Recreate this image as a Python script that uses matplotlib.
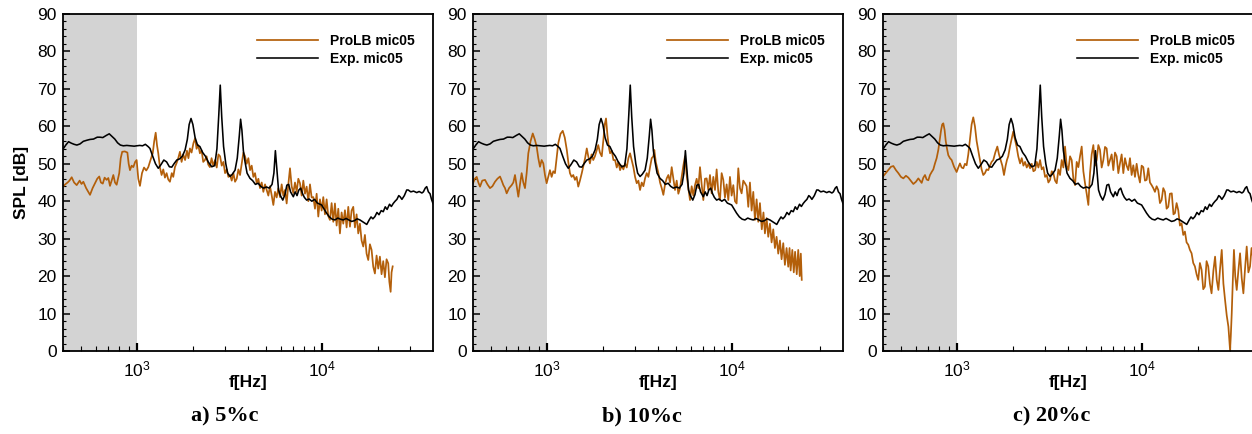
import numpy as np
import matplotlib
matplotlib.use("Agg")
import matplotlib.pyplot as plt
from matplotlib.ticker import MultipleLocator, LogLocator, NullFormatter

plt.rcParams['font.family'] = ['Liberation Sans', 'DejaVu Sans']

# ---------------- data (log10 of frequency in Hz, SPL in dB) ----------------
exp_logf = [2.600, 2.615, 2.630, 2.645, 2.660, 2.675, 2.692, 2.710, 2.730, 2.746, 2.765, 2.785, 2.800, 2.815,
            2.835, 2.850, 2.865, 2.880, 2.895, 2.910, 2.926, 2.945, 2.965, 2.985, 2.998, 3.015, 3.030, 3.045,
            3.060, 3.070, 3.085, 3.100, 3.115, 3.130, 3.145, 3.160, 3.175, 3.188, 3.200, 3.215, 3.230, 3.245,
            3.260, 3.272, 3.282, 3.292, 3.302, 3.314, 3.327, 3.340, 3.355, 3.370, 3.385, 3.404, 3.420, 3.432,
            3.442, 3.450, 3.458, 3.468, 3.480, 3.490, 3.503, 3.515, 3.530, 3.542, 3.553, 3.560, 3.567, 3.575,
            3.584, 3.595, 3.611, 3.625, 3.640, 3.655, 3.668, 3.683, 3.700, 3.715, 3.730, 3.740, 3.748, 3.756,
            3.765, 3.775, 3.788, 3.800, 3.810, 3.820, 3.830, 3.845, 3.855, 3.865, 3.875, 3.885, 3.895, 3.905,
            3.917, 3.930, 3.945, 3.960, 3.975, 3.988, 3.998, 4.010, 4.025, 4.040, 4.055, 4.070, 4.085, 4.100,
            4.115, 4.130, 4.145, 4.160, 4.175, 4.190, 4.205, 4.220, 4.235, 4.242, 4.255, 4.265, 4.275, 4.286,
            4.297, 4.308, 4.320, 4.331, 4.342, 4.352, 4.365, 4.375, 4.385, 4.395, 4.405, 4.415, 4.422, 4.432,
            4.445, 4.458, 4.466, 4.480, 4.495, 4.512, 4.525, 4.540, 4.548, 4.558, 4.566, 4.575, 4.584, 4.592,
            4.600]
exp_spl = [53.9, 55.0, 55.9, 55.5, 55.2, 55.0, 55.3, 56.0, 56.3, 56.5, 56.6, 57.1, 57.1, 57.0,
           57.6, 58.0, 57.3, 56.6, 55.6, 55.0, 54.8, 54.9, 54.8, 54.7, 54.8, 54.9, 54.8, 55.2,
           54.6, 54.1, 52.0, 50.0, 48.8, 49.8, 51.0, 50.5, 49.2, 49.1, 50.0, 51.0, 51.3, 52.0,
           53.7, 56.5, 60.5, 62.1, 60.5, 57.0, 55.0, 54.6, 53.0, 52.0, 50.5, 49.2, 49.5, 54.0,
           63.0, 71.0, 62.5, 54.6, 50.0, 47.5, 46.6, 47.2, 48.3, 51.5, 57.5, 61.9, 59.0, 53.5,
           50.5, 47.5, 46.1, 45.5, 44.5, 44.8, 44.0, 43.5, 43.8, 43.5, 44.5, 47.5, 53.5, 48.5,
           43.0, 41.5, 40.3, 41.8, 44.3, 44.5, 42.5, 41.2, 42.5, 41.5, 43.0, 43.5, 42.0, 41.0,
           40.3, 40.6, 40.0, 40.5, 39.5, 39.2, 39.0, 38.0, 36.8, 35.8, 35.2, 35.0, 35.5, 35.2,
           35.0, 35.4, 35.0, 34.6, 34.8, 35.3, 35.0, 34.5, 34.0, 33.8, 35.0, 35.8, 35.3, 35.9,
           37.0, 36.4, 37.5, 37.2, 38.5, 37.8, 39.2, 38.6, 39.4, 40.0, 40.5, 41.5, 41.2, 40.5,
           41.5, 43.0, 43.0, 42.5, 42.7, 42.3, 42.6, 42.2, 42.5, 43.5, 43.9, 42.5, 42.0, 40.5,
           39.4]

prolb_a_logf = [2.600, 2.612, 2.625, 2.635, 2.647, 2.660, 2.674, 2.690, 2.700, 2.710, 2.725, 2.746, 2.760, 2.773,
                2.785, 2.796, 2.805, 2.815, 2.825, 2.836, 2.845, 2.854, 2.863, 2.872, 2.881, 2.890, 2.897, 2.904,
                2.912, 2.920, 2.934, 2.948, 2.955, 2.962, 2.971, 2.980, 2.990, 2.998, 3.007, 3.016, 3.027, 3.038,
                3.050, 3.061, 3.073, 3.085, 3.093, 3.101, 3.108, 3.115, 3.124, 3.133, 3.142, 3.151, 3.160, 3.169,
                3.178, 3.188, 3.196, 3.205, 3.214, 3.223, 3.232, 3.241, 3.250, 3.260, 3.270, 3.278, 3.286, 3.295,
                3.305, 3.314, 3.322, 3.331, 3.340, 3.349, 3.358, 3.367, 3.376, 3.385, 3.394, 3.403, 3.412, 3.422,
                3.431, 3.440, 3.449, 3.458, 3.467, 3.476, 3.485, 3.494, 3.503, 3.512, 3.521, 3.530, 3.539, 3.548,
                3.557, 3.566, 3.575, 3.584, 3.593, 3.602, 3.611, 3.620, 3.629, 3.638, 3.647, 3.656, 3.665, 3.674,
                3.683, 3.692, 3.701, 3.710, 3.719, 3.728, 3.737, 3.746, 3.755, 3.764, 3.773, 3.782, 3.791, 3.800,
                3.809, 3.818, 3.827, 3.836, 3.845, 3.854, 3.863, 3.872, 3.881, 3.890, 3.899, 3.908, 3.917, 3.926,
                3.935, 3.944, 3.953, 3.962, 3.971, 3.980, 3.989, 3.998, 4.007, 4.016, 4.025, 4.034, 4.043, 4.052,
                4.061, 4.070, 4.079, 4.088, 4.097, 4.106, 4.115, 4.124, 4.133, 4.142, 4.151, 4.160, 4.169, 4.178,
                4.187, 4.196, 4.205, 4.214, 4.223, 4.232, 4.241, 4.250, 4.259, 4.268, 4.277, 4.286, 4.295, 4.304,
                4.313, 4.322, 4.331, 4.340, 4.349, 4.358, 4.364, 4.371, 4.376, 4.382]
prolb_a_spl = [43.9, 44.5, 45.0, 45.5, 46.4, 45.0, 44.3, 45.5, 44.6, 45.2, 43.5, 41.7, 43.5, 44.8,
               46.0, 46.6, 45.0, 44.7, 46.3, 45.7, 46.2, 44.1, 45.5, 47.0, 45.0, 44.4, 46.0, 47.5,
               51.5, 53.2, 53.3, 53.0, 50.0, 48.3, 49.5, 49.1, 50.5, 51.0, 46.0, 44.1, 47.5, 49.0,
               48.2, 49.1, 51.0, 52.8, 56.0, 58.3, 55.0, 52.8, 49.0, 47.0, 48.5, 46.3, 47.5, 45.8,
               45.2, 47.5, 46.5, 49.1, 50.2, 51.5, 53.2, 50.5, 52.5, 51.0, 53.5, 51.5, 54.1, 53.0,
               55.5, 56.8, 54.0, 55.0, 52.8, 53.6, 50.5, 51.0, 52.0, 49.8, 49.1, 51.5, 49.5, 51.0,
               49.0, 52.5, 52.0, 49.5, 50.5, 47.5, 48.5, 46.5, 47.0, 45.5, 47.5, 45.2, 46.0, 48.5,
               47.0, 50.0, 53.0, 52.0, 50.0, 51.5, 48.3, 49.5, 46.5, 47.5, 44.8, 46.0, 43.5, 45.0,
               42.5, 44.5, 43.0, 41.5, 44.0, 41.6, 39.0, 42.5, 41.0, 43.5, 41.1, 44.5, 41.5, 43.0,
               39.4, 44.5, 48.8, 44.0, 42.2, 45.0, 42.5, 46.0, 44.8, 41.5, 45.5, 42.0, 43.9, 40.0,
               44.5, 41.0, 41.1, 38.0, 42.0, 35.9, 40.5, 37.5, 41.1, 36.5, 40.5, 36.0, 35.0, 39.5,
               34.5, 39.4, 33.5, 38.0, 31.4, 37.0, 34.0, 37.6, 33.0, 38.5, 33.2, 37.5, 38.5, 33.0,
               36.5, 31.4, 34.0, 29.5, 27.9, 31.0, 26.0, 24.3, 28.5, 27.0, 22.5, 20.7, 25.5, 22.0,
               25.2, 20.5, 24.0, 19.7, 24.5, 23.4, 18.5, 15.8, 21.0, 22.6]

prolb_b_logf = [2.600, 2.610, 2.620, 2.629, 2.638, 2.650, 2.665, 2.678, 2.692, 2.705, 2.719, 2.732, 2.746, 2.755,
                2.764, 2.773, 2.782, 2.795, 2.809, 2.818, 2.827, 2.836, 2.845, 2.854, 2.863, 2.872, 2.881, 2.890,
                2.899, 2.911, 2.923, 2.934, 2.944, 2.953, 2.962, 2.971, 2.980, 2.989, 2.998, 3.007, 3.016, 3.025,
                3.034, 3.043, 3.052, 3.061, 3.073, 3.085, 3.096, 3.107, 3.115, 3.124, 3.133, 3.142, 3.151, 3.160,
                3.169, 3.178, 3.188, 3.197, 3.206, 3.215, 3.223, 3.232, 3.241, 3.250, 3.259, 3.268, 3.277, 3.286,
                3.296, 3.305, 3.312, 3.319, 3.327, 3.334, 3.341, 3.350, 3.359, 3.368, 3.377, 3.386, 3.395, 3.404,
                3.413, 3.422, 3.431, 3.440, 3.449, 3.458, 3.467, 3.476, 3.485, 3.494, 3.503, 3.512, 3.521, 3.530,
                3.539, 3.548, 3.557, 3.566, 3.575, 3.580, 3.588, 3.595, 3.602, 3.611, 3.620, 3.629, 3.638, 3.647,
                3.656, 3.665, 3.674, 3.683, 3.692, 3.701, 3.710, 3.719, 3.728, 3.737, 3.746, 3.755, 3.764, 3.773,
                3.782, 3.791, 3.800, 3.809, 3.818, 3.827, 3.836, 3.845, 3.854, 3.863, 3.872, 3.881, 3.890, 3.899,
                3.908, 3.917, 3.926, 3.935, 3.944, 3.953, 3.962, 3.971, 3.980, 3.989, 3.998, 4.007, 4.016, 4.025,
                4.034, 4.043, 4.052, 4.061, 4.070, 4.079, 4.088, 4.097, 4.106, 4.115, 4.124, 4.133, 4.142, 4.151,
                4.161, 4.170, 4.178, 4.187, 4.196, 4.205, 4.214, 4.223, 4.232, 4.241, 4.250, 4.259, 4.268, 4.277,
                4.286, 4.295, 4.304, 4.311, 4.317, 4.326, 4.334, 4.341, 4.350, 4.358, 4.366, 4.372, 4.377]
prolb_b_spl = [44.8, 46.0, 46.5, 45.0, 43.9, 45.5, 45.7, 44.5, 43.5, 44.0, 45.2, 46.0, 46.6, 45.5,
               44.3, 43.5, 42.1, 43.5, 44.3, 45.0, 47.0, 44.0, 41.2, 44.5, 47.5, 45.0, 43.5, 47.5,
               52.8, 56.0, 58.1, 56.5, 54.6, 51.5, 49.2, 51.0, 50.1, 47.0, 44.8, 46.5, 48.3, 46.5,
               48.0, 47.5, 51.5, 55.5, 58.0, 58.8, 57.0, 53.7, 50.5, 47.5, 46.5, 47.0, 45.7, 46.5,
               43.9, 45.5, 47.5, 49.5, 51.5, 54.1, 52.0, 50.1, 52.5, 51.0, 52.0, 53.5, 55.0, 53.0,
               52.0, 56.5, 60.5, 62.1, 57.5, 54.5, 52.8, 53.5, 51.0, 51.0, 49.0, 50.5, 48.3, 49.5,
               48.5, 50.1, 49.0, 51.5, 52.8, 51.0, 49.1, 46.5, 44.8, 45.5, 43.0, 45.0, 44.0, 46.1,
               47.5, 46.5, 49.1, 51.5, 52.0, 53.7, 50.5, 49.0, 47.5, 45.0, 43.5, 41.7, 44.5, 46.1,
               47.0, 45.0, 49.1, 46.0, 43.0, 45.5, 42.0, 43.5, 46.5, 49.5, 52.0, 47.0, 43.5, 40.3,
               44.0, 41.5, 44.3, 46.0, 43.5, 49.1, 44.5, 40.3, 46.0, 46.1, 43.0, 47.0, 42.1, 46.5,
               43.0, 48.5, 42.5, 40.3, 47.5, 45.7, 41.0, 44.5, 40.3, 46.5, 41.5, 44.3, 40.0, 39.4,
               48.8, 43.5, 42.1, 45.5, 44.8, 44.0, 38.5, 45.0, 37.5, 42.5, 35.0, 40.5, 34.5, 39.5,
               32.5, 37.0, 31.4, 35.5, 30.5, 34.0, 29.0, 32.5, 27.5, 30.5, 26.0, 29.5, 24.5, 28.8,
               23.0, 27.5, 22.5, 27.5, 21.5, 27.0, 21.0, 26.5, 20.5, 27.0, 20.0, 26.0, 19.0]

prolb_c_logf = [2.600, 2.615, 2.629, 2.643, 2.656, 2.670, 2.683, 2.697, 2.710, 2.724, 2.737, 2.750, 2.764, 2.778,
                2.791, 2.800, 2.809, 2.818, 2.827, 2.836, 2.845, 2.854, 2.863, 2.872, 2.881, 2.890, 2.899, 2.907,
                2.914, 2.920, 2.926, 2.933, 2.939, 2.946, 2.953, 2.962, 2.971, 2.978, 2.984, 2.991, 2.998, 3.007,
                3.016, 3.025, 3.034, 3.043, 3.052, 3.061, 3.070, 3.079, 3.088, 3.097, 3.106, 3.115, 3.124, 3.133,
                3.142, 3.151, 3.160, 3.169, 3.178, 3.187, 3.196, 3.207, 3.218, 3.227, 3.236, 3.245, 3.254, 3.263,
                3.270, 3.277, 3.286, 3.295, 3.304, 3.313, 3.322, 3.331, 3.341, 3.350, 3.359, 3.368, 3.377, 3.386,
                3.395, 3.404, 3.413, 3.422, 3.431, 3.440, 3.449, 3.458, 3.467, 3.476, 3.485, 3.494, 3.503, 3.512,
                3.521, 3.530, 3.539, 3.548, 3.557, 3.566, 3.575, 3.584, 3.593, 3.602, 3.611, 3.620, 3.629, 3.638,
                3.647, 3.656, 3.665, 3.674, 3.683, 3.692, 3.701, 3.710, 3.719, 3.728, 3.737, 3.746, 3.755, 3.764,
                3.773, 3.782, 3.791, 3.800, 3.809, 3.818, 3.827, 3.836, 3.845, 3.854, 3.863, 3.872, 3.881, 3.890,
                3.899, 3.908, 3.917, 3.926, 3.935, 3.944, 3.953, 3.962, 3.971, 3.980, 3.989, 3.998, 4.007, 4.016,
                4.025, 4.034, 4.043, 4.052, 4.061, 4.070, 4.079, 4.088, 4.097, 4.106, 4.115, 4.124, 4.133, 4.142,
                4.151, 4.161, 4.170, 4.178, 4.187, 4.196, 4.205, 4.214, 4.223, 4.232, 4.241, 4.250, 4.259, 4.268,
                4.277, 4.286, 4.295, 4.304, 4.313, 4.322, 4.331, 4.340, 4.349, 4.358, 4.367, 4.376, 4.386, 4.395,
                4.404, 4.413, 4.422, 4.431, 4.440, 4.449, 4.458, 4.467, 4.473, 4.476, 4.480, 4.485, 4.491, 4.497,
                4.504, 4.512, 4.521, 4.530, 4.539, 4.548, 4.557, 4.566, 4.575, 4.584, 4.592, 4.600]
prolb_c_spl = [46.6, 47.5, 48.3, 49.2, 49.4, 48.3, 47.5, 46.5, 46.1, 46.8, 46.3, 45.5, 44.6, 45.2,
               46.1, 45.5, 44.9, 46.3, 47.0, 45.8, 45.6, 47.0, 47.8, 48.5, 50.1, 51.5, 53.7, 56.5,
               59.0, 60.5, 60.8, 59.0, 56.1, 54.0, 52.3, 51.5, 51.0, 50.0, 49.2, 48.5, 47.8, 49.0,
               50.1, 49.0, 48.8, 50.0, 49.6, 52.5, 56.4, 60.5, 62.4, 60.0, 56.1, 53.5, 51.0, 48.5,
               47.0, 47.5, 48.5, 48.3, 49.5, 50.5, 51.0, 53.0, 54.6, 52.5, 51.0, 49.5, 47.0, 49.5,
               51.0, 52.0, 54.5, 56.5, 58.6, 56.5, 54.6, 52.0, 50.1, 51.5, 49.5, 50.5, 49.0, 50.0,
               48.8, 50.0, 48.0, 48.3, 50.5, 49.0, 51.0, 48.5, 49.1, 46.5, 47.0, 45.0, 45.7, 48.0,
               47.5, 45.5, 44.8, 48.5, 47.0, 51.0, 49.0, 54.6, 49.5, 48.3, 52.0, 51.0, 46.0, 44.3,
               50.5, 49.1, 52.0, 54.6, 48.0, 44.8, 42.0, 39.0, 47.5, 52.5, 55.0, 49.5, 51.0, 55.0,
               53.7, 49.0, 51.0, 54.5, 54.1, 49.5, 51.0, 52.5, 48.3, 53.0, 52.0, 47.5, 50.1, 52.5,
               47.5, 51.5, 49.5, 48.3, 51.5, 47.0, 49.6, 46.5, 50.0, 47.0, 45.0, 49.5, 49.1, 45.5,
               45.7, 48.8, 45.0, 44.3, 43.5, 42.5, 44.0, 43.0, 39.5, 40.3, 43.5, 42.5, 38.0, 38.5,
               42.0, 42.1, 36.5, 36.8, 39.5, 37.6, 33.5, 34.1, 31.0, 31.9, 29.0, 28.4, 27.0, 26.1,
               23.5, 22.6, 20.5, 19.0, 23.5, 21.7, 16.5, 17.2, 24.0, 22.6, 18.0, 15.4, 21.5, 25.2,
               19.0, 16.3, 22.0, 27.0, 18.0, 13.6, 9.5, 6.5, 2.0, 0.2, 4.0, 10.0, 19.0, 27.0,
               20.0, 16.3, 21.5, 26.1, 19.5, 15.4, 22.0, 27.9, 21.0, 22.6, 27.5, 25.2]

prolb_sets = [(prolb_a_logf, prolb_a_spl), (prolb_b_logf, prolb_b_spl), (prolb_c_logf, prolb_c_spl)]
captions = ["a) 5%c", "b) 10%c", "c) 20%c"]
legend_labels = ["ProLB mic05", "Exp. mic05"]
yticks = [0, 10, 20, 30, 40, 50, 60, 70, 80, 90]

# ---------------- figure ----------------
W, H = 1252, 434
fig = plt.figure(figsize=(W / 100, H / 100), dpi=100)

orange = '#b35f0a'
lefts_px = [63, 473, 883]
ax_w_px, top_px, bot_px = 370, 14, 351
caption_x_px = [225, 642, 1052]

for i, (lf, spl) in enumerate(prolb_sets):
    ax = fig.add_axes([lefts_px[i] / W, (H - bot_px) / H, ax_w_px / W, (bot_px - top_px) / H])
    ax.set_xscale('log')
    ax.set_xlim(10 ** 2.6, 10 ** 4.6)
    ax.set_ylim(0, 90)
    ax.axvspan(10 ** 2.6, 1000, color='#d3d3d3', zorder=0, lw=0)
    ax.plot(10 ** np.array(lf), spl, color=orange, lw=1.25, label=legend_labels[0], zorder=2)
    ax.plot(10 ** np.array(exp_logf), exp_spl, color='black', lw=1.15, label=legend_labels[1], zorder=3)

    ax.set_yticks(yticks)
    ax.yaxis.set_minor_locator(MultipleLocator(2))
    ax.xaxis.set_major_locator(LogLocator(base=10, numticks=10))
    ax.xaxis.set_minor_locator(LogLocator(base=10, subs=np.arange(2, 10), numticks=20))
    ax.xaxis.set_minor_formatter(NullFormatter())
    ax.tick_params(axis='both', which='both', direction='in', top=False, right=False, colors='black')
    ax.tick_params(axis='y', which='major', length=5, width=1.1, labelsize=12.5, pad=4.5)
    ax.tick_params(axis='y', which='minor', length=2.5, width=0.8)
    ax.tick_params(axis='x', which='major', length=6, width=1.6, labelsize=12.5, pad=6)
    ax.tick_params(axis='x', which='minor', length=3.5, width=0.8)
    for s in ax.spines.values():
        s.set_linewidth(1.3)

    ax.set_xlabel('f[Hz]', fontsize=12.5, fontweight='bold', labelpad=-3)
    if i == 0:
        ax.set_ylabel('SPL [dB]', fontsize=12.5, fontweight='bold', labelpad=6)

    ax.legend(loc='upper left', bbox_to_anchor=(0.524, 0.94), frameon=False,
              prop={'weight': 'bold', 'size': 10}, handlelength=4.4, handletextpad=0.9,
              labelspacing=0.25, borderpad=0, borderaxespad=0)

    fig.text(caption_x_px[i] / W, (H - 421) / H, captions[i], ha='center', va='baseline',
             fontsize=16, fontweight='bold', family=['Liberation Serif', 'DejaVu Serif'])

fig.savefig('out.png', dpi=100)
